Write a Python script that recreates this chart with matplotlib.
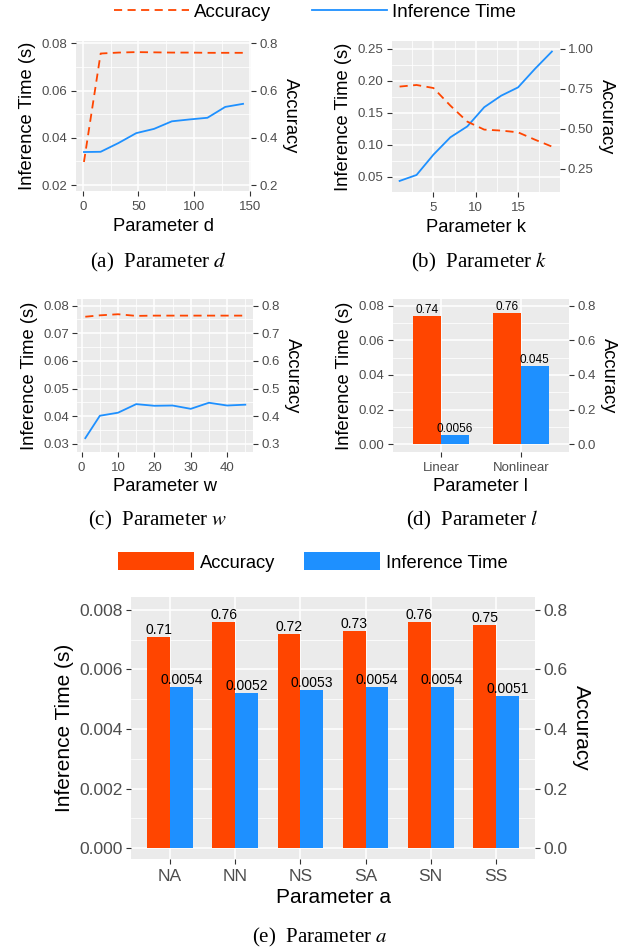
import numpy as np
import matplotlib
matplotlib.use("Agg")
import matplotlib.pyplot as plt
from matplotlib.ticker import FormatStrFormatter, MultipleLocator, FixedLocator
from matplotlib.lines import Line2D
from matplotlib.patches import Patch

plt.rcParams["font.family"] = ["Liberation Sans", "DejaVu Sans"]
plt.rcParams["mathtext.fontset"] = "stix"

# panel (a) parameter d
d_values = [1, 16, 32, 48, 64, 80, 96, 112, 128, 144]
d_time = [0.0340, 0.0341, 0.0378, 0.0420, 0.0438, 0.0470, 0.0478, 0.0485, 0.0531, 0.0544]
d_acc = [0.298, 0.757, 0.761, 0.763, 0.762, 0.761, 0.761, 0.760, 0.760, 0.760]

# panel (b) parameter k
k_values = [1, 3, 5, 7, 9, 11, 13, 15, 17, 19]
k_time = [0.0438, 0.0531, 0.0849, 0.112, 0.129, 0.159, 0.177, 0.190, 0.219, 0.246]
k_acc = [0.765, 0.775, 0.756, 0.646, 0.546, 0.496, 0.490, 0.479, 0.433, 0.390]

# panel (c) parameter w
w_values = [1, 5, 10, 15, 20, 25, 30, 35, 40, 45]
w_time = [0.0321, 0.0402, 0.0413, 0.0444, 0.0438, 0.0439, 0.0427, 0.0449, 0.0439, 0.0442]
w_acc = [0.760, 0.765, 0.769, 0.763, 0.764, 0.764, 0.764, 0.764, 0.764, 0.764]

# panel (d) parameter l
l_labels = ["Linear", "Nonlinear"]
l_acc = [0.74, 0.76]
l_time = [0.0056, 0.045]

# panel (e) parameter a
a_labels = ["NA", "NN", "NS", "SA", "SN", "SS"]
a_acc = [0.71, 0.76, 0.72, 0.73, 0.76, 0.75]
a_time = [0.0054, 0.0052, 0.0053, 0.0054, 0.0054, 0.0051]

ORANGE = "#FF4500"
BLUE = "#1E90FF"
W, H = 638, 947
DASH = (0, (4.5, 3))


# makes an axes from pixel edges of the figure
def px_axes(fig, left, top, right, bottom):
    return fig.add_axes([left / W, 1 - bottom / H, (right - left) / W, (bottom - top) / H])


# ggplot-like grey panel with a second accuracy axis on the right
def style_panel(ax, ylim, scale, left_fmt, right_fmt, right_ticks, tick_size=9.5, title_size=13.2):
    ax.set_facecolor("#EBEBEB")
    ax.set_ylim(ylim)
    ax2 = ax.twinx()
    ax2.set_ylim(ylim[0] * scale, ylim[1] * scale)
    for a in (ax, ax2):
        for spine in a.spines.values():
            spine.set_visible(False)
        a.tick_params(which="major", length=3.6, width=0.8, color="#333333",
                      labelcolor="#4D4D4D", labelsize=tick_size, pad=2.5)
        a.tick_params(which="minor", length=0)
    ax.tick_params(axis="x", pad=3.5)
    ax.grid(which="major", color="white", linewidth=1.1)
    ax.grid(which="minor", color="white", linewidth=0.55)
    ax.set_axisbelow(True)
    ax.yaxis.set_major_formatter(FormatStrFormatter(left_fmt))
    ax2.yaxis.set_major_locator(FixedLocator(right_ticks))
    ax2.yaxis.set_major_formatter(FormatStrFormatter(right_fmt))
    ax.set_ylabel("Inference Time (s)", fontsize=title_size, labelpad=4)
    ax2.set_ylabel("Accuracy", fontsize=title_size, rotation=-90, va="bottom", labelpad=3)
    return ax2


# line panel: time on the left axis, accuracy dashed on the right
def line_panel(ax, x, time, acc, xlim, ylim, scale, xmajor, ymajor, left_fmt, right_fmt, right_ticks, xlabel):
    ax2 = style_panel(ax, ylim, scale, left_fmt, right_fmt, right_ticks)
    ax.set_xlim(xlim)
    ax.xaxis.set_major_locator(MultipleLocator(xmajor))
    ax.xaxis.set_minor_locator(MultipleLocator(xmajor / 2))
    ax.yaxis.set_major_locator(MultipleLocator(ymajor))
    ax.yaxis.set_minor_locator(MultipleLocator(ymajor / 2))
    ax.plot(x, time, color=BLUE, linewidth=1.3)
    ax2.plot(x, acc, color=ORANGE, linewidth=1.3, linestyle=DASH)
    ax.set_xlabel(xlabel, fontsize=13.2, labelpad=3.5)
    return ax2


# bar panel: accuracy and time side by side per category
def bar_panel(ax, labels, acc, time, ylim, scale, ymajor, left_fmt, xlabel,
              tick_size=9.5, title_size=13.2, label_size=8.5):
    ax2 = style_panel(ax, ylim, scale, left_fmt, "%.1f",
                      np.arange(0, 0.81, 0.2), tick_size, title_size)
    positions = np.arange(len(labels))
    ax.set_xlim(-0.6, len(labels) - 0.4)
    ax.set_xticks(positions)
    ax.set_xticklabels(labels)
    ax.yaxis.set_major_locator(MultipleLocator(ymajor))
    ax.yaxis.set_minor_locator(MultipleLocator(ymajor / 2))
    ax.bar(positions + 0.175, time, width=0.35, color=BLUE)
    ax2.bar(positions - 0.175, acc, width=0.35, color=ORANGE)
    for p, value in zip(positions, acc):
        ax2.text(p - 0.175, value, f"{value:.2g}", ha="center", va="bottom",
                 fontsize=label_size, color="black")
    for p, value in zip(positions, time):
        ax2.text(p + 0.175, value, f"{value:.2g}", ha="center", va="bottom",
                 fontsize=label_size, color="black", transform=ax.transData)
    ax.set_xlabel(xlabel, fontsize=title_size, labelpad=3)
    return ax2


fig = plt.figure(figsize=(W / 100, H / 100), dpi=100)

ax_a = px_axes(fig, 76, 41, 251, 191)
line_panel(ax_a, d_values, d_time, d_acc, (-6.15, 151.15), (0.0175, 0.081), 10,
           50, 0.02, "%.2f", "%.1f", [0.2, 0.4, 0.6, 0.8], "Parameter d")

ax_b = px_axes(fig, 392, 41, 559.5, 192)
line_panel(ax_b, k_values, k_time, k_acc, (0.1, 19.9), (0.0265, 0.2625), 4,
           5, 0.05, "%.2f", "%.2f", [0.25, 0.5, 0.75, 1.0], "Parameter k")

ax_c = px_axes(fig, 77.3, 299.3, 253.3, 451.7)
line_panel(ax_c, w_values, w_time, w_acc, (-1.2, 47.2), (0.0272, 0.0823), 10,
           10, 0.01, "%.2f", "%.1f", [0.3, 0.4, 0.5, 0.6, 0.7, 0.8], "Parameter w")

ax_d = px_axes(fig, 393, 299.3, 568.7, 451.7)
bar_panel(ax_d, l_labels, l_acc, l_time, (-0.0043, 0.0837), 10, 0.02, "%.2f", "Parameter l")

ax_e = px_axes(fig, 131, 597.3, 535, 859.3)
bar_panel(ax_e, a_labels, a_acc, a_time, (-0.000369, 0.00842), 100, 0.002, "%.3f", "Parameter a",
          tick_size=12.5, title_size=15, label_size=10)

# shared legend for the line panels
line_handles = [Line2D([], [], color=ORANGE, linewidth=1.3, linestyle=DASH),
                Line2D([], [], color=BLUE, linewidth=1.3)]
fig.legend(line_handles, ["Accuracy", "Inference Time"], loc="center",
           bbox_to_anchor=(315 / W, 1 - 12.5 / H), ncol=2, frameon=False, fontsize=13.5,
           handlelength=4, handletextpad=0.27, columnspacing=2.2)

# legend for the bar panel (e)
bar_handles = [Patch(facecolor=ORANGE), Patch(facecolor=BLUE)]
fig.legend(bar_handles, ["Accuracy", "Inference Time"], loc="center",
           bbox_to_anchor=(313 / W, 1 - 562 / H), ncol=2, frameon=False, fontsize=13.2,
           handlelength=4.1, handleheight=1.1, handletextpad=0.34, columnspacing=1.6)

captions = [
    (158, 262, "(a)  Parameter $d$"),
    (479, 262, "(b)  Parameter $k$"),
    (157.5, 520, "(c)  Parameter $w$"),
    (472, 520, "(d)  Parameter $l$"),
    (319.5, 937, "(e)  Parameter $a$"),
]
for x, y, text in captions:
    fig.text(x / W, 1 - y / H, text, ha="center", va="center",
             family="Liberation Serif", fontsize=15)

fig.savefig("out.png", dpi=100)
